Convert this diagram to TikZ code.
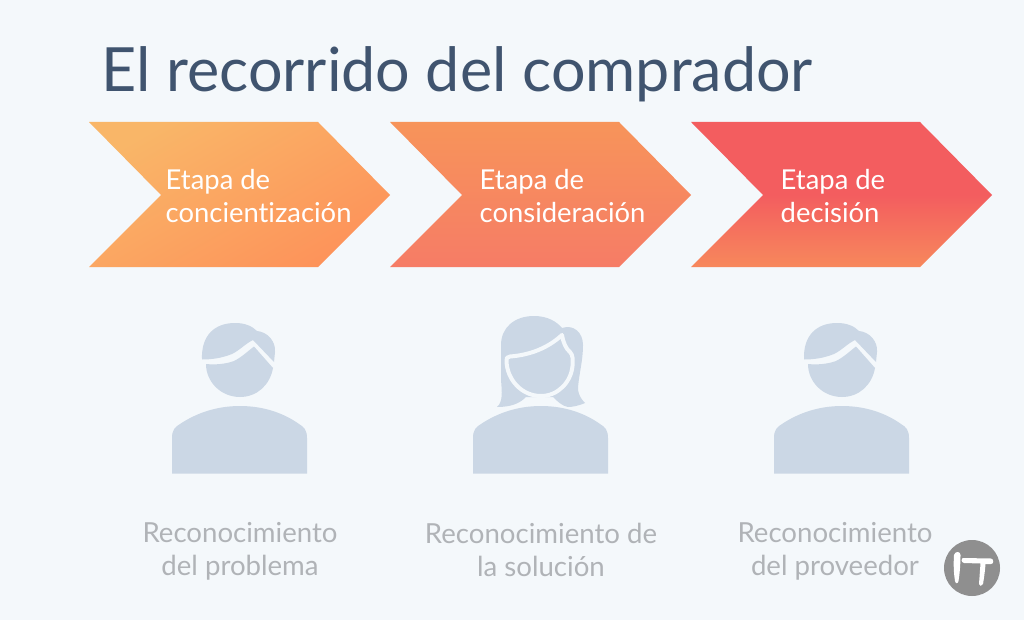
\documentclass[tikz,border=0pt]{standalone}
\usepackage{fontspec}
\setmainfont[Ligatures=NoCommon]{Lato}
\definecolor{bgc}{HTML}{F4F8FB}
\definecolor{titlec}{HTML}{40546F}
\definecolor{personc}{HTML}{CBD7E5}
\definecolor{labelc}{HTML}{B0B3B7}
\definecolor{logoc}{HTML}{8F8F8F}
\definecolor{a1}{HTML}{F9B668}
\definecolor{a2}{HTML}{FD935A}
\definecolor{b1}{HTML}{F7945A}
\definecolor{b2}{HTML}{F67C66}
\definecolor{c1}{HTML}{F35D5F}
\definecolor{c3}{HTML}{F7885C}
\pgfdeclareverticalshading{chevC}{100bp}{color(0bp)=(c3);color(25bp)=(c3);color(50bp)=(c1);color(100bp)=(c1)}
\tikzset{
  stagetext/.style={text=white,font=\fontsize{27.4}{33}\selectfont,align=left,anchor=west,inner sep=0pt},
  labeltext/.style={text=labelc,font=\fontsize{27.6}{33}\selectfont,align=center,anchor=center,inner sep=0pt},
}
\newcommand{\manfig}[1]{%
  \begin{scope}[xshift=#1]
    \fill[personc] (202,359.5) .. controls (201,335) and (215,323) .. (235,323)
      .. controls (245,323) and (252,326) .. (257,331)
      .. controls (268,332) and (276,342) .. (275,352) -- (274,362)
      -- (253,340) .. controls (245,344) and (240,350) .. (232,354)
      .. controls (222,358) and (212,359.5) .. (202,359.5) -- cycle;
    \fill[personc] (206,364) .. controls (215,365) and (226,364) .. (234,361)
      .. controls (242,357) and (248,351) .. (254,346.5)
      -- (273,368) .. controls (270,385) and (257,397) .. (240,397)
      .. controls (221,397) and (206,382) .. (206,364) -- cycle;
  \end{scope}}
\newcommand{\bodyfig}[1]{%
  \fill[personc,xshift=#1] (172,473.5) -- (172,438) .. controls (172,430) and (175,427) .. (180,424)
    .. controls (195,414) and (215,406) .. (240,406)
    .. controls (265,406) and (285,414) .. (299,424)
    .. controls (304,427) and (307,430) .. (307,438) -- (307,473.5) -- cycle;}
\begin{document}
\begin{tikzpicture}[x=1pt,y=-1pt]
\path[use as bounding box,fill=bgc] (0,0) rectangle (1024,620);
\node[text=titlec,font=\fontsize{61}{62}\selectfont,anchor=base west,inner sep=0pt] (title) at (101,92) {El recorrido del comprador};
% chevrons
\shade[top color=a1,bottom color=a2,shading angle=30] (89,122) -- (318,122) -- (390,195) -- (318,267) -- (89,267) -- (161,195) -- cycle;
\shade[top color=b1,bottom color=b2] (390,122) -- (619,122) -- (691,195) -- (619,267) -- (390,267) -- (462,195) -- cycle;
\shade[shading=chevC] (691,122) -- (920,122) -- (992,195) -- (920,267) -- (691,267) -- (763,195) -- cycle;
\node[stagetext] (s1) at (165.5,196) {Etapa de\\concientización};
\node[stagetext] (s2) at (479.5,196) {Etapa de\\consideración};
\node[stagetext] (s3) at (780.5,196) {Etapa de\\decisión};
% people
\manfig{0pt}
\bodyfig{0pt}
\manfig{602pt}
\bodyfig{602pt}
\bodyfig{301pt}
% woman
\fill[personc] (497,407) .. controls (503,402) and (502,392) .. (501,380)
  -- (501,345) .. controls (501,328) and (514,316) .. (534,316)
  .. controls (548,316) and (557,322) .. (562,328)
  .. controls (574,324) and (583,333) .. (583,345)
  .. controls (583,362) and (578,378) .. (578,390)
  .. controls (579,396) and (582,400) .. (585,403)
  .. controls (578,406) and (572,407) .. (568,407)
  .. controls (562,406) and (557,401) .. (553,397)
  -- (526,397) .. controls (520,403) and (512,407) .. (497,407) -- cycle;
\path[fill=personc,draw=bgc,line width=4pt,line join=round] (506.5,361) .. controls (506,358) and (507,357) .. (510,356.5)
  .. controls (530,355) and (548,348) .. (562,335)
  .. controls (563,342) and (566,349) .. (570,352)
  .. controls (573,355) and (573,360) .. (572.5,366)
  .. controls (571,382) and (558,396) .. (541,396)
  .. controls (522,396) and (507,380) .. (506.5,361) -- cycle;
% logo
\fill[logoc] (972,568) circle[radius=28];
\fill[white] (954,555) .. controls (955,551) and (960.5,551) .. (960.5,555)
  .. controls (960.5,565) and (959.5,575) .. (958.5,581) .. controls (958,584) and (955.5,584) .. (955,581)
  .. controls (953.5,572) and (953.5,563) .. (954,555) -- cycle;
\fill[white] (963,558) -- (991,558.5) .. controls (994,559) and (994,564) .. (991,564)
  -- (985.5,564) .. controls (985,571) and (984,578) .. (983,584)
  .. controls (982,586.5) and (979,586.5) .. (979,584)
  .. controls (979.5,577) and (980,570) .. (980.5,563.5) -- (964,563) .. controls (961,562.5) and (961,558.5) .. (963,558) -- cycle;
\node[labeltext] (l1) at (240,551) {Reconocimiento\\del problema};
\node[labeltext] (l2) at (541,550) {Reconocimiento de\\la solución};
\node[labeltext] (l3) at (835,551) {Reconocimiento\\del proveedor};
\end{tikzpicture}
\end{document}
